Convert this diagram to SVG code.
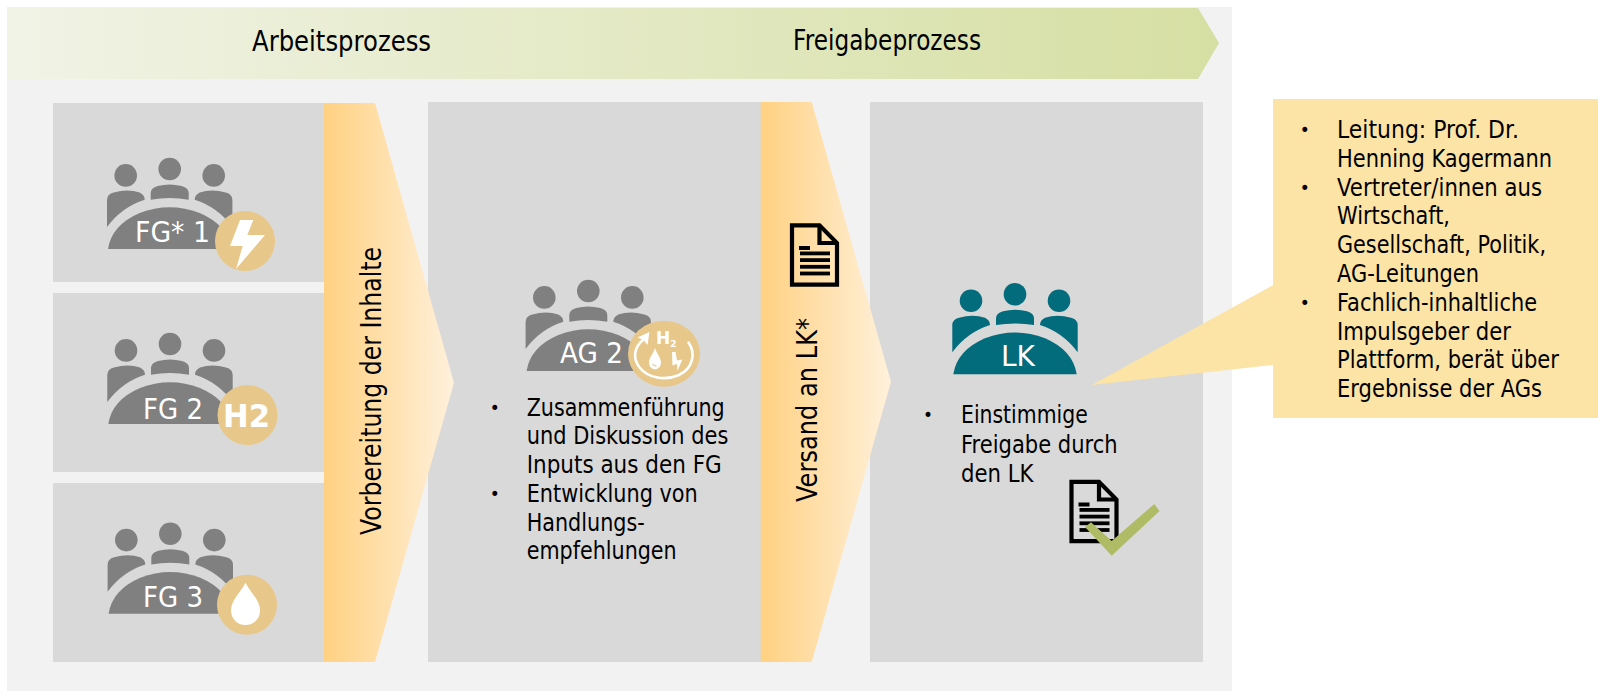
<svg xmlns="http://www.w3.org/2000/svg" width="1598" height="691" viewBox="0 0 1598 691">
<style>
text{font-family:"DejaVu Sans","Liberation Sans",sans-serif;fill:#000}
.h{font-size:28px}
.b{font-size:24px}
.bu{font-size:17px;text-anchor:middle}
.w{font-size:29px;fill:#fff}
.box{fill:#d9d9d9}
.grey{fill:#808080}
.teal{fill:#026c7c}
.badge{fill:#e8c88a}
.white{fill:#fff}
.doc{fill:none;stroke:#000;stroke-width:4.2}
.docl{fill:#000}
</style>
<defs>
<linearGradient id="gTop" x1="0" x2="1" y1="0" y2="0"><stop offset="0" stop-color="#f1f3e6"/><stop offset="1" stop-color="#d6dfa3"/></linearGradient>
<linearGradient id="gOr" x1="0" x2="1" y1="0" y2="0"><stop offset="0" stop-color="#ffd182"/><stop offset="1" stop-color="#fff1dc"/></linearGradient>
<g id="people">
<circle cx="-44" cy="-73.6" r="11.300"/><circle cx="0" cy="-80" r="11.300"/><circle cx="44" cy="-73.6" r="11.300"/>
<path d="M-62.7-22V-49Q-62.700-55-56-56.500Q-42-60.500-30-56.500Q-25-54-25-49.300Q-48-42-62.700-22Z"/>
<path d="M62.700-22V-49Q62.700-55 56-56.500Q42-60.500 30-56.500Q25-54 25-49.300Q48-42 62.700-22Z"/>
<path d="M-19-49.300V-56Q-19-61-12-63Q0-66 12-63Q19-61 19-56V-49.300Q0-52.500-19-49.300Z"/>
<path d="M-61.700 0Q-58-24-30-36Q0-47.500 30-36Q58-24 61.700 0Z"/>
</g>
<g id="doc">
<path class="doc" d="M792 225.300H819.500L837 243V284.700H792Z"/>
<path class="doc" d="M819.500 225.300V243H837"/>
<rect class="docl" x="799" y="246" width="11" height="4"/>
<rect class="docl" x="800" y="251.500" width="30" height="3.800"/>
<rect class="docl" x="800" y="258.200" width="30" height="3.800"/>
<rect class="docl" x="800" y="264.900" width="30" height="3.800"/>
<rect class="docl" x="800" y="271.600" width="30" height="3.800"/>
</g>
</defs>
<rect id="background" x="7" y="7" width="1225" height="684" fill="#f2f2f2"/>
<g id="process-banner">
<path d="M7 8H1198L1219 43L1198 79H7Z" fill="url(#gTop)"/>
<text class="h" x="252" y="51" textLength="179" lengthAdjust="spacingAndGlyphs">Arbeitsprozess</text>
<text class="h" x="793" y="50" textLength="188" lengthAdjust="spacingAndGlyphs">Freigabeprozess</text>
</g>
<g id="fg1">
<rect class="box" x="53" y="103" width="272" height="179"/>
<use href="#people" x="169.700" y="249" class="grey"/>
<text class="w" x="135" y="242" textLength="75" lengthAdjust="spacingAndGlyphs">FG* 1</text>
<circle class="badge" cx="245" cy="241" r="30"/>
<path class="white" d="M240 220H253.300L247.300 235H265L236 269L242.700 246H230Z"/>
</g>
<g id="fg2">
<rect class="box" x="53" y="293" width="272" height="179"/>
<use href="#people" x="170" y="424" class="grey"/>
<text class="w" x="143" y="418.500" textLength="60" lengthAdjust="spacingAndGlyphs">FG 2</text>
<circle class="badge" cx="247.500" cy="415" r="30"/>
<text x="223" y="426.500" font-size="32" font-weight="700" style="fill:#fff" textLength="47" lengthAdjust="spacingAndGlyphs">H2</text>
</g>
<g id="fg3">
<rect class="box" x="53" y="483" width="272" height="179"/>
<use href="#people" x="170.300" y="613.700" class="grey"/>
<text class="w" x="143" y="606.700" textLength="60" lengthAdjust="spacingAndGlyphs">FG 3</text>
<circle class="badge" cx="247" cy="604.700" r="30"/>
<path class="white" d="M245.500 582.700C250 592 260 600 260 610.500C260 619 253.500 625 245.500 625C237.500 625 231 619 231 610.500C231 600 241 592 245.500 582.700Z"/>
</g>
<g id="ag2">
<rect class="box" x="428" y="102" width="333" height="560"/>
<use href="#people" x="588.300" y="371" class="grey"/>
<text class="w" x="560" y="363" textLength="63" lengthAdjust="spacingAndGlyphs">AG 2</text>
<ellipse class="badge" cx="664" cy="353.700" rx="36" ry="33"/>
<path fill="none" stroke="#fff" stroke-width="2.600" d="M688 341.700C697 354 692 369 679 375C665 381 648 378 640 368C632 358 634 347 644 339"/>
<path class="white" d="M649.500 332L647.500 345L643.500 340L637.500 337.500Z"/>
<text x="656" y="344" font-size="17" font-weight="700" style="fill:#fff">H<tspan font-size="9" dy="2.500">2</tspan></text>
<path class="white" d="M655 348C657 354 661 358 661 362.500C661 366.500 658 369.300 655 369.300C652 369.300 649 366.500 649 362.500C649 358 653 354 655 348Z"/>
<path class="badge" d="M652 364Q654 367 657 366.500L656 365.300Q654 365.500 653 363.500Z"/>
<path class="white" d="M672 352H675.500L677 360.500L682.300 359.500L677.500 371L677 364L672.500 365.500Z"/>
<text class="bu" x="494.700" y="413.700">•</text>
<text class="b" x="526.700" y="415.700" textLength="198" lengthAdjust="spacingAndGlyphs">Zusammenführung</text>
<text class="b" x="526.700" y="444.300" textLength="201.700" lengthAdjust="spacingAndGlyphs">und Diskussion des</text>
<text class="b" x="526.700" y="473" textLength="195" lengthAdjust="spacingAndGlyphs">Inputs aus den FG</text>
<text class="bu" x="494.700" y="499.700">•</text>
<text class="b" x="526.700" y="501.700" textLength="171" lengthAdjust="spacingAndGlyphs">Entwicklung von</text>
<text class="b" x="526.700" y="530.500" textLength="118" lengthAdjust="spacingAndGlyphs">Handlungs-</text>
<text class="b" x="526.700" y="559.300" textLength="150" lengthAdjust="spacingAndGlyphs">empfehlungen</text>
</g>
<g id="lk">
<rect class="box" x="870" y="102" width="333" height="560"/>
<use href="#people" x="1015" y="374.300" class="teal"/>
<text class="w" x="1001" y="366" textLength="34" lengthAdjust="spacingAndGlyphs">LK</text>
<text class="bu" x="928" y="421.300">•</text>
<text class="b" x="961" y="423.300" textLength="126.700" lengthAdjust="spacingAndGlyphs">Einstimmige</text>
<text class="b" x="961" y="452.500" textLength="156.700" lengthAdjust="spacingAndGlyphs">Freigabe durch</text>
<text class="b" x="961" y="481.500" textLength="72.500" lengthAdjust="spacingAndGlyphs">den LK</text>
<use href="#doc" x="279.500" y="256.500"/>
<path d="M1091 522.300L1111.700 541L1154.300 504L1159.500 511L1111.700 555.700L1085 527Z" fill="#afbb65"/>
</g>
<g id="arrow-inhalte">
<path d="M324 103H375L454 382.700L375 662H324Z" fill="url(#gOr)"/>
<text class="h" transform="translate(381 535) rotate(-90)" textLength="288" lengthAdjust="spacingAndGlyphs">Vorbereitung der Inhalte</text>
</g>
<g id="arrow-versand">
<path d="M760.700 102H811.700L891 381.700L811.700 662H760.700Z" fill="url(#gOr)"/>
<text class="h" transform="translate(816.700 502) rotate(-90)" textLength="184" lengthAdjust="spacingAndGlyphs">Versand an LK*</text>
<use href="#doc"/>
</g>
<g id="callout">
<path d="M1273 99H1598V418H1273V365L1091.700 385L1273 285.300Z" fill="#fce3a6"/>
<text class="bu" x="1304.700" y="135.700">•</text>
<text class="b" x="1337" y="137.700" textLength="182" lengthAdjust="spacingAndGlyphs">Leitung: Prof. Dr.</text>
<text class="b" x="1337" y="166.700" textLength="215" lengthAdjust="spacingAndGlyphs">Henning Kagermann</text>
<text class="bu" x="1304.700" y="193.500">•</text>
<text class="b" x="1337" y="195.500" textLength="205" lengthAdjust="spacingAndGlyphs">Vertreter/innen aus</text>
<text class="b" x="1337" y="224.300" textLength="113" lengthAdjust="spacingAndGlyphs">Wirtschaft,</text>
<text class="b" x="1337" y="253" textLength="209" lengthAdjust="spacingAndGlyphs">Gesellschaft, Politik,</text>
<text class="b" x="1337" y="282" textLength="142" lengthAdjust="spacingAndGlyphs">AG-Leitungen</text>
<text class="bu" x="1304.700" y="308.700">•</text>
<text class="b" x="1337" y="310.700" textLength="200" lengthAdjust="spacingAndGlyphs">Fachlich-inhaltliche</text>
<text class="b" x="1337" y="339.500" textLength="174" lengthAdjust="spacingAndGlyphs">Impulsgeber der</text>
<text class="b" x="1337" y="368.300" textLength="222" lengthAdjust="spacingAndGlyphs">Plattform, berät über</text>
<text class="b" x="1337" y="397" textLength="205" lengthAdjust="spacingAndGlyphs">Ergebnisse der AGs</text>
</g>
</svg>
